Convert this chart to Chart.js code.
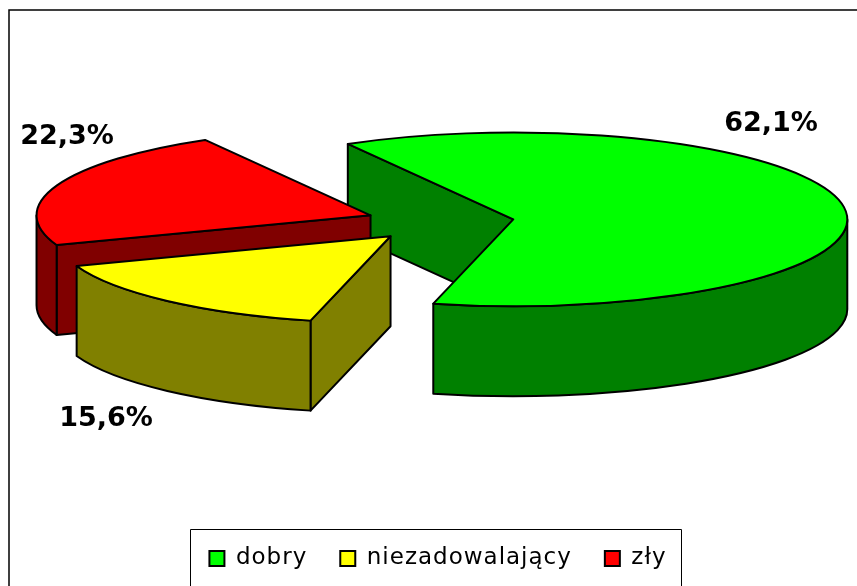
<!DOCTYPE html>
<html>
<head>
<meta charset="utf-8">
<style>
    body { margin: 0; background: #fff; overflow: hidden; }
    canvas { display: block; }
</style>
<script src="https://cdn.jsdelivr.net/npm/chart.js@4"></script>
</head>
<body>
<canvas id="myChart" width="857" height="586"></canvas>
<script>
var categories = ['dobry', 'niezadowalający', 'zły'];
var shares = [62.1, 15.6, 22.3];

var topColors = ['#00ff00', '#ffff00', '#ff0000'];
var wallColors = ['#008000', '#808000', '#800000'];

// label centres, same order as categories
var labelX = [771, 106, 67];
var labelY = [124, 419, 137];

var tilt = 0.26;       // pie seen from above, ellipse height / width
var depth = 90;        // height of the walls
var shiftX = 2;        // chart area centre -> pie centre
var pieCentreY = 222;
var explode = 74;
var drawOrder = [0, 2, 1];

function edgePoint(cx, cy, r, a) {
    return { x: cx + Math.cos(a) * r, y: cy + Math.sin(a) * r * tilt };
}

function drawSlice(ctx, arc, i) {
    var p = arc.getProps(['x', 'y', 'startAngle', 'endAngle', 'outerRadius'], true);
    var mid = (p.startAngle + p.endAngle) / 2;
    var cx = p.x + shiftX + Math.cos(mid) * explode;
    var cy = pieCentreY + Math.sin(mid) * explode * tilt;
    var r = p.outerRadius;
    var s = edgePoint(cx, cy, r, p.startAngle);

    ctx.lineWidth = 2;
    ctx.lineJoin = 'round';
    ctx.strokeStyle = '#000';
    ctx.fillStyle = wallColors[i];

    // flat side at the start of the slice, only if it faces the viewer
    if (Math.sin(p.startAngle - Math.PI / 2) > 0) {
        ctx.beginPath();
        ctx.moveTo(s.x, s.y);
        ctx.lineTo(cx, cy);
        ctx.lineTo(cx, cy + depth);
        ctx.lineTo(s.x, s.y + depth);
        ctx.closePath();
        ctx.fill();
        ctx.stroke();
    }

    // rounded wall, front half of the ellipse only
    var from = Math.max(p.startAngle, 0);
    var to = Math.min(p.endAngle, Math.PI);
    if (to > from) {
        ctx.beginPath();
        ctx.ellipse(cx, cy, r, r * tilt, 0, from, to);
        ctx.ellipse(cx, cy + depth, r, r * tilt, 0, to, from, true);
        ctx.closePath();
        ctx.fill();
        ctx.stroke();
    }

    // top
    ctx.fillStyle = topColors[i];
    ctx.beginPath();
    ctx.moveTo(cx, cy);
    ctx.ellipse(cx, cy, r, r * tilt, 0, p.startAngle, p.endAngle);
    ctx.closePath();
    ctx.fill();
    ctx.stroke();
}

var tiltedPie = {
    id: 'tiltedPie',
    // the canvas state is lost on resize, so set the spacing before measuring and before drawing
    beforeLayout: function (chart) {
        chart.ctx.letterSpacing = '1px';
    },
    beforeDraw: function (chart) {
        var ctx = chart.ctx;
        var boxes = chart.legend.legendHitBoxes;
        var last = boxes[boxes.length - 1];
        ctx.letterSpacing = '1px';
        ctx.save();
        ctx.strokeStyle = '#000';
        ctx.lineWidth = 1.5;
        // outer frame, runs off the right and the bottom of the picture
        ctx.beginPath();
        ctx.moveTo(9, 586);
        ctx.lineTo(9, 10);
        ctx.lineTo(857, 10);
        ctx.stroke();
        // legend frame
        ctx.lineWidth = 1;
        var left = Math.round(boxes[0].left - 19) + 0.5;
        var right = Math.round(last.left + last.width + 14) + 0.5;
        ctx.beginPath();
        ctx.moveTo(left, 586);
        ctx.lineTo(left, 529.5);
        ctx.lineTo(right, 529.5);
        ctx.lineTo(right, 586);
        ctx.stroke();
        ctx.restore();
    },
    beforeDatasetDraw: function (chart, args) {
        var ctx = chart.ctx;
        var arcs = args.meta.data;
        ctx.save();
        drawOrder.forEach(function (i) {
            drawSlice(ctx, arcs[i], i);
        });
        ctx.restore();
        return false;
    },
    afterDraw: function (chart) {
        var ctx = chart.ctx;
        ctx.save();
        ctx.letterSpacing = '0px';
        ctx.font = 'bold 27px "DejaVu Sans"';
        ctx.fillStyle = '#000';
        ctx.textAlign = 'center';
        ctx.textBaseline = 'middle';
        shares.forEach(function (v, i) {
            ctx.fillText(v.toFixed(1).replace('.', ',') + '%', labelX[i], labelY[i]);
        });
        ctx.restore();
    }
};

const myChart = new Chart(document.getElementById('myChart'), {
    type: 'pie',
    data: {
        labels: categories,
        datasets: [{
            data: shares,
            backgroundColor: topColors,
            borderColor: '#000',
            borderWidth: 2
        }]
    },
    options: {
        responsive: false,
        animation: false,
        rotation: -29.7,
        radius: 334,
        layout: {
            padding: { left: 19, right: 0, top: 0, bottom: 6 }
        },
        plugins: {
            tooltip: { enabled: false },
            legend: {
                position: 'bottom',
                labels: {
                    color: '#000',
                    boxWidth: 15,
                    boxHeight: 15,
                    padding: 33,
                    font: { family: '"DejaVu Sans"', size: 23 }
                }
            }
        }
    },
    plugins: [tiltedPie]
});
</script>
</body>
</html>
